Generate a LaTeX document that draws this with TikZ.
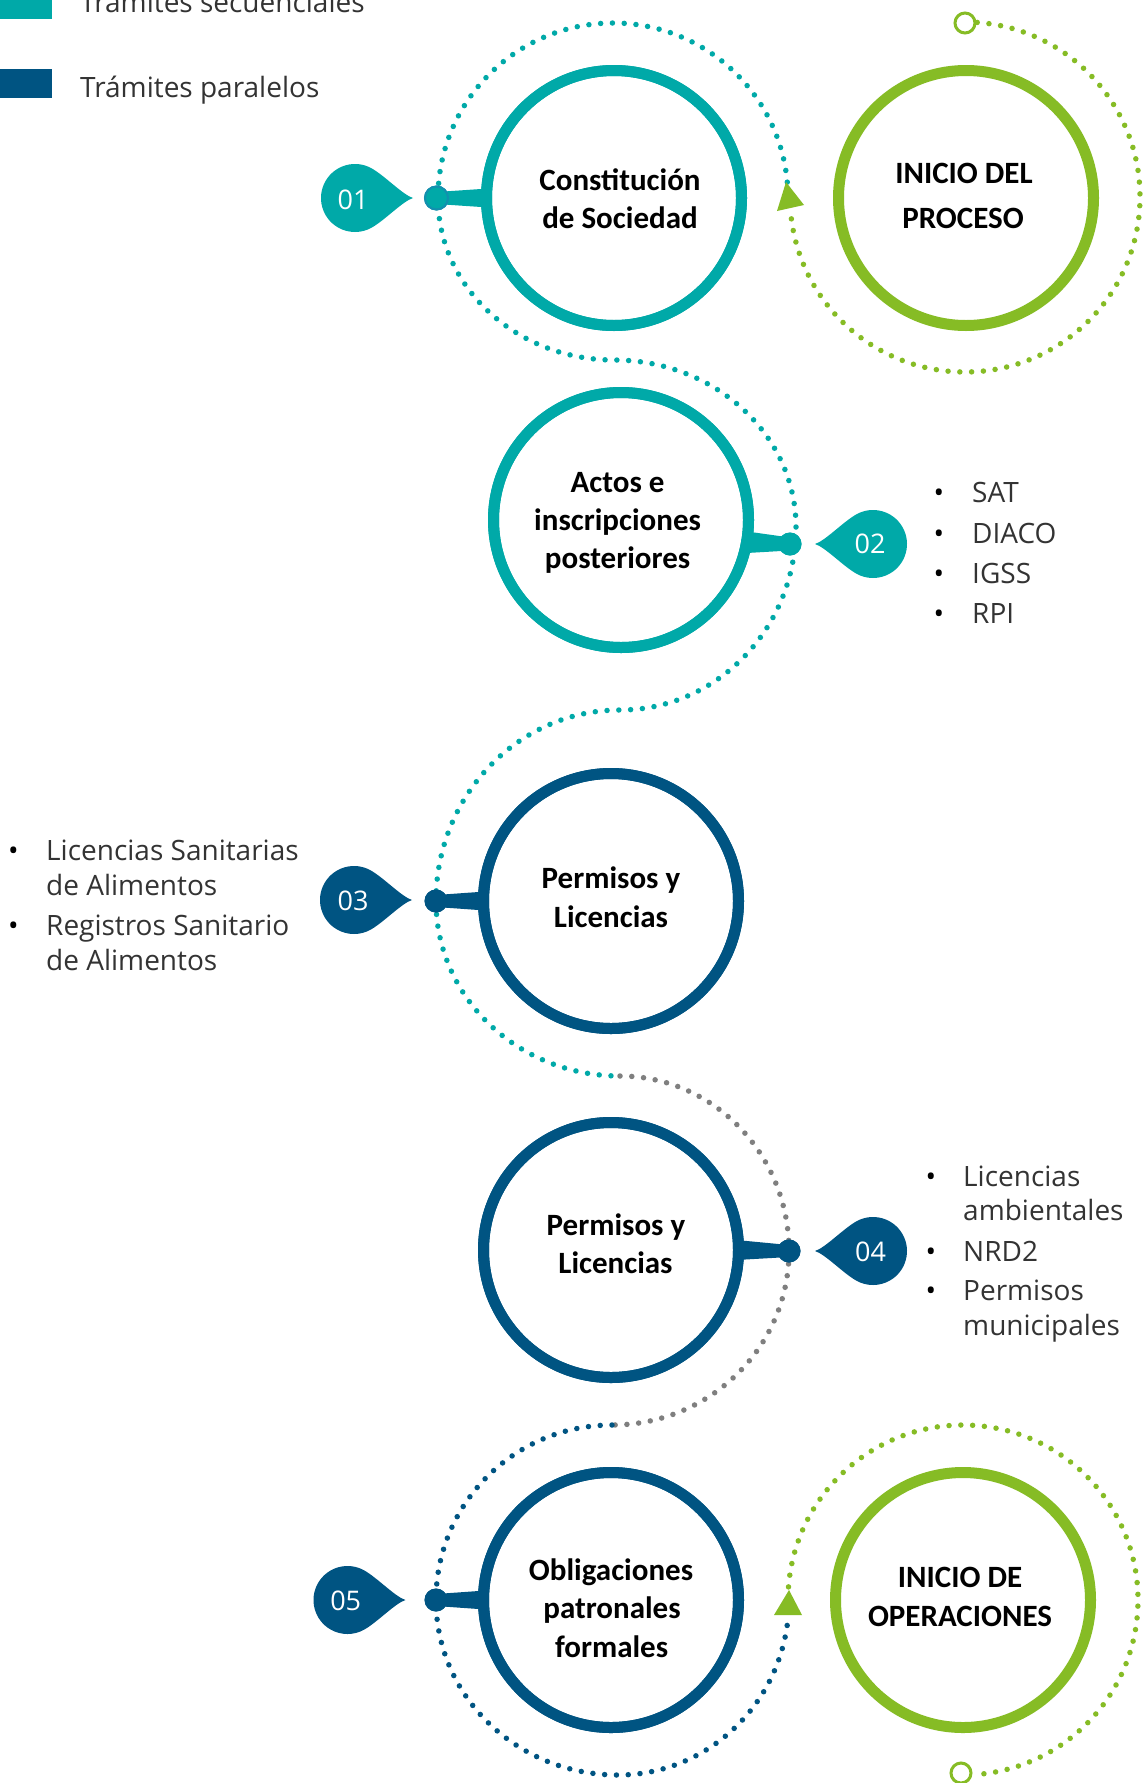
\documentclass[tikz,border=0pt]{standalone}
\usepackage{fontspec}
\setmainfont{Open Sans}
\newfontfamily\lblfont{Carlito}
\usetikzlibrary{calc}
\definecolor{tealc}{HTML}{00A9A8}
\definecolor{bluec}{HTML}{005482}
\definecolor{greenc}{HTML}{86BC25}
\definecolor{grayc}{HTML}{7F7F7F}
\definecolor{txtgray}{HTML}{333333}
\definecolor{knobedge}{HTML}{1290AE}
\tikzset{
  ringnode/.style={circle, draw, line width=11pt, fill=white, minimum size=255pt, inner sep=0pt, outer sep=0pt},
  dotline/.style={line width=5.5pt, line cap=round, dash pattern=on 0pt off 11.8pt},
  lbl/.style={font=\lblfont\bfseries\fontsize{31}{38}\selectfont, anchor=base, inner sep=0pt},
  txt/.style={font=\fontsize{28}{34}\selectfont, anchor=base west, inner sep=0pt, text=txtgray},
  bul/.style={font=\fontsize{28}{34}\selectfont, anchor=base, inner sep=0pt, text=black},
  num/.style={font=\fontsize{27}{32}\selectfont, anchor=base, inner sep=0pt, text=white},
  knob/.style={circle, inner sep=0pt, outer sep=0pt, minimum size=23pt},
  openend/.style={circle, draw=greenc, line width=3pt, fill=white, minimum size=20pt, inner sep=0pt},
  bubble/.pic={\fill (58,0) .. controls (48,3) and (30,22) .. (60:34) arc[start angle=60, end angle=300, radius=34] .. controls (30,-22) and (48,-3) .. (58,0) -- cycle;}
}
\begin{document}
\begin{tikzpicture}[x=1pt,y=1pt]
\clip (0,0) rectangle (1144,-1783);
\fill[white] (0,0) rectangle (1144,-1783);

% legend
\fill[tealc] (0,10) rectangle (52,-19);
\fill[bluec] (0,-69) rectangle (52,-98);
\node[txt] (leg1) at (80,-12) {Trámites secuenciales};
\node[txt] (leg2) at (80,-97) {Trámites paralelos};

% green ring around INICIO DEL PROCESO
\draw[dotline, greenc] (965,-197) ++(86:175) arc[start angle=86, end angle=-175, radius=175];
% teal serpentine
\draw[dotline, tealc] (613,-198) ++(5.2:175) arc[start angle=5.2, end angle=180, radius=175]
  arc[start angle=180, end angle=270, x radius=176, y radius=162]
  arc[start angle=90, end angle=0, x radius=182, y radius=167]
  arc[start angle=0, end angle=-90, x radius=176, y radius=183]
  arc[start angle=90, end angle=180, x radius=184, y radius=191]
  arc[start angle=180, end angle=270, x radius=184, y radius=175];
% gray part
\draw[dotline, grayc] (620,-1076)
  arc[start angle=90, end angle=0, x radius=169, y radius=175]
  arc[start angle=0, end angle=-90, x radius=177, y radius=174];
% blue part
\draw[dotline, bluec] (612,-1425)
  arc[start angle=90, end angle=180, x radius=176, y radius=175]
  arc[start angle=180, end angle=270, x radius=182, y radius=175]
  arc[start angle=270, end angle=352, x radius=171, y radius=175];
% green ring around INICIO DE OPERACIONES
\draw[dotline, greenc] (963,-1600) ++(175.7:175) arc[start angle=175.7, end angle=-86, radius=175];

% arrows
\fill[greenc] (786,-182) -- (777,-211) -- (804,-205) -- cycle;
\fill[greenc] (789,-1590) -- (774,-1615) -- (802,-1615) -- cycle;

% open ends
\node[openend] (s1) at (965,-23) {};
\node[openend] (s2) at (961,-1773) {};

% circles
\node[ringnode, draw=tealc] (c1) at (614,-198) {};
\node[ringnode, draw=greenc] (g1) at (966,-198) {};
\node[ringnode, draw=tealc] (c2) at (621,-520) {};
\node[ringnode, draw=bluec] (c3) at (611,-901) {};
\node[ringnode, draw=bluec] (c4) at (611,-1250) {};
\node[ringnode, draw=bluec] (c5) at (611,-1600) {};
\node[ringnode, draw=greenc] (g2) at (963,-1600) {};

% knobs
\node[knob, fill=tealc, draw=knobedge, line width=2pt] (k1) at (436.5,-198) {};
\node[knob, fill=tealc] (k2) at (790,-544) {};
\node[knob, fill=bluec] (k3) at (436,-901) {};
\node[knob, fill=bluec] (k4) at (789,-1251) {};
\node[knob, fill=bluec] (k5) at (436,-1600) {};

% stems
\fill[tealc] ([yshift=6pt]k1.center) -- ([yshift=9.5pt,xshift=2pt]c1.west) -- ([yshift=-9.5pt,xshift=2pt]c1.west) -- ([yshift=-6pt]k1.center) -- cycle;
\fill[tealc] ([yshift=6.5pt]k2.center) -- ([yshift=11pt,xshift=-2pt]c2.-10.85) -- ([yshift=-11pt,xshift=-2pt]c2.-10.85) -- ([yshift=-6.5pt]k2.center) -- cycle;
\fill[bluec] ([yshift=6pt]k3.center) -- ([yshift=9.5pt,xshift=2pt]c3.west) -- ([yshift=-9.5pt,xshift=2pt]c3.west) -- ([yshift=-6pt]k3.center) -- cycle;
\fill[bluec] ([yshift=6pt]k4.center) -- ([yshift=10pt,xshift=-2pt]c4.east) -- ([yshift=-10pt,xshift=-2pt]c4.east) -- ([yshift=-6pt]k4.center) -- cycle;
\fill[bluec] ([yshift=6pt]k5.center) -- ([yshift=9.5pt,xshift=2pt]c5.west) -- ([yshift=-9.5pt,xshift=2pt]c5.west) -- ([yshift=-6pt]k5.center) -- cycle;
% redraw rings on top of stems
\draw[tealc, line width=11pt] (c1) circle[radius=127.5];
\draw[tealc, line width=11pt] (c2) circle[radius=127.5];
\draw[bluec, line width=11pt] (c3) circle[radius=127.5];
\draw[bluec, line width=11pt] (c4) circle[radius=127.5];
\draw[bluec, line width=11pt] (c5) circle[radius=127.5];
\node[knob, fill=tealc, draw=knobedge, line width=2pt] at (k1) {};
\node[knob, fill=tealc] at (k2) {};
\node[knob, fill=bluec] at (k3) {};
\node[knob, fill=bluec] at (k4) {};
\node[knob, fill=bluec] at (k5) {};

% bubbles
\pic[tealc] at (355,-198) {bubble};
\pic[tealc, xscale=-1] at (873,-544) {bubble};
\pic[bluec] at (354,-900) {bubble};
\pic[bluec, xscale=-1] at (873,-1251) {bubble};
\pic[bluec] at (347.5,-1600) {bubble};
\node[num] (n1) at (353,-209.3) {01};
\node[num] (n2) at (870,-553) {02};
\node[num] (n3) at (353,-910) {03};
\node[num] (n4) at (870.6,-1261) {04};
\node[num] (n5) at (345.7,-1610) {05};

% circle labels
\node[lbl] (t1a) at (620,-190) {Constitución};
\node[lbl] (t1b) at (620,-228) {de Sociedad};
\node[lbl] (tg1a) at (964,-183) {INICIO DEL};
\node[lbl] (tg1b) at (963,-228) {PROCESO};
\node[lbl] (t2a) at (617.6,-492) {Actos e};
\node[lbl] (t2b) at (617.6,-530) {inscripciones};
\node[lbl] (t2c) at (617.6,-568) {posteriores};
\node[lbl] (t3a) at (611,-888) {Permisos y};
\node[lbl] (t3b) at (611,-927) {Licencias};
\node[lbl] (t4a) at (616,-1235) {Permisos y};
\node[lbl] (t4b) at (615.5,-1273) {Licencias};
\node[lbl] (t5a) at (611,-1580) {Obligaciones};
\node[lbl] (t5b) at (612,-1618) {patronales};
\node[lbl] (t5c) at (611.6,-1657) {formales};
\node[lbl] (tg2a) at (960,-1587) {INICIO DE};
\node[lbl] (tg2b) at (960,-1626) {OPERACIONES};

% bullet list 02
\node[bul] (b2a) at (939,-502) {•};
\node[bul] (b2b) at (939,-543) {•};
\node[bul] (b2c) at (939,-583) {•};
\node[bul] (b2d) at (939,-623) {•};
\node[txt] (l2a) at (972,-502) {SAT};
\node[txt] (l2b) at (972,-543) {DIACO};
\node[txt] (l2c) at (972,-583) {IGSS};
\node[txt] (l2d) at (972,-623) {RPI};

% bullet list 03
\node[bul] (b3a) at (13.5,-860) {•};
\node[bul] (b3b) at (13.5,-935) {•};
\node[txt] (l3a) at (46,-860) {Licencias Sanitarias};
\node[txt] (l3b) at (46,-895) {de Alimentos};
\node[txt] (l3c) at (46,-935) {Registros Sanitario};
\node[txt] (l3d) at (46,-970) {de Alimentos};

% bullet list 04
\node[bul] (b4a) at (931,-1186) {•};
\node[bul] (b4b) at (931,-1261) {•};
\node[bul] (b4c) at (931,-1300) {•};
\node[txt] (l4a) at (963,-1186) {Licencias};
\node[txt] (l4b) at (963,-1220) {ambientales};
\node[txt] (l4c) at (963,-1261) {NRD2};
\node[txt] (l4d) at (963,-1300) {Permisos};
\node[txt] (l4e) at (963,-1335) {municipales};
\end{tikzpicture}
\end{document}
